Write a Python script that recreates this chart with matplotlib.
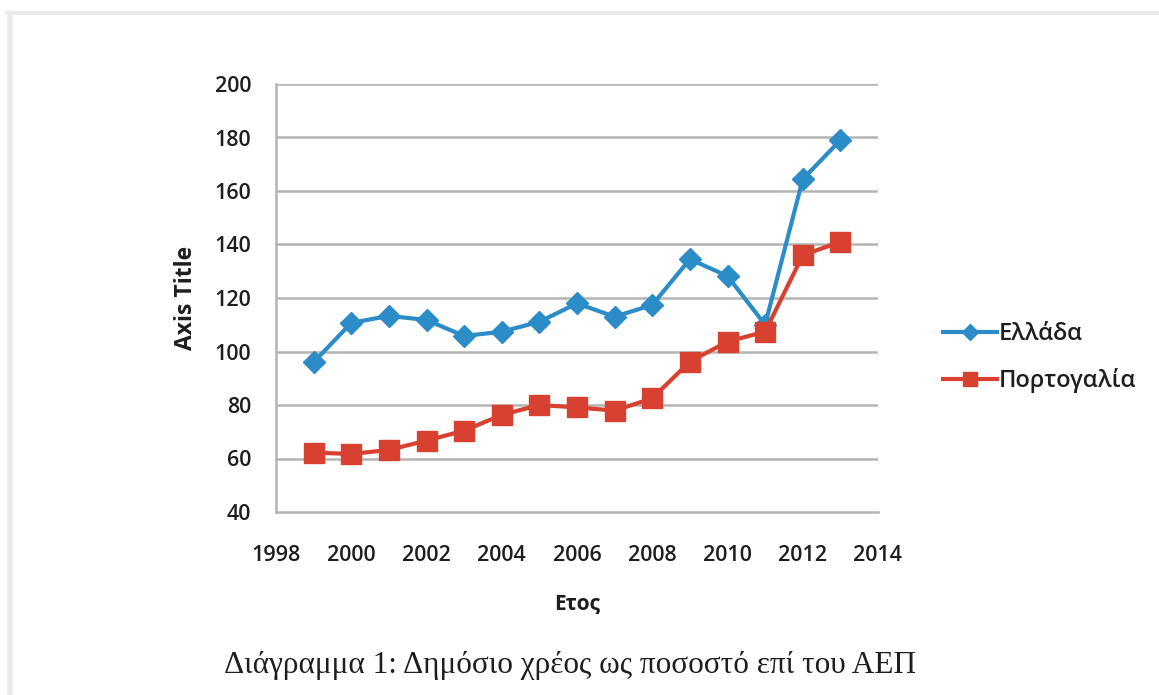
import matplotlib.pyplot as plt
from matplotlib.lines import Line2D

years = list(range(1999, 2014))
greece = [96, 110.7, 113.3, 111.8, 105.8, 107.4, 111.1, 118, 113, 117.4,
          134.5, 128.2, 110, 164.4, 179]
portugal = [62.2, 61.7, 63.2, 66.7, 70.4, 76.3, 80, 79.1, 77.9, 82.5,
            96.2, 103.7, 107.4, 136, 141]
series_names = ["Ελλάδα", "Πορτογαλία"]
y_ticks = [40, 60, 80, 100, 120, 140, 160, 180, 200]
x_ticks = [1998, 2000, 2002, 2004, 2006, 2008, 2010, 2012, 2014]

blue = "#2b8cc8"
red = "#d8402f"
grid_col = "#b4b4b4"
text_col = "#1e1e1e"

plt.rcParams['font.family'] = ['Open Sans', 'DejaVu Sans']

fig = plt.figure(figsize=(11.59, 6.95), dpi=100, facecolor='white')
ax = fig.add_axes([276 / 1159, 1 - 512 / 695, 602 / 1159, 428 / 695])

ax.plot(years, greece, color=blue, linewidth=3, marker='D', markersize=11,
        label=series_names[0], zorder=3)
ax.plot(years, portugal, color=red, linewidth=3, marker='s', markersize=14,
        label=series_names[1], zorder=4)

ax.set_xlim(1998, 2014)
ax.set_ylim(40, 200)
ax.set_xticks(x_ticks)
ax.set_yticks(y_ticks)
ax.tick_params(axis='both', length=0, labelsize=15.5, colors=text_col)
ax.tick_params(axis='x', pad=24)
ax.tick_params(axis='y', pad=18)
for lbl in ax.get_xticklabels() + ax.get_yticklabels():
    lbl.set_fontweight('semibold')

for y in y_ticks[1:]:
    ax.axhline(y, color=grid_col, linewidth=1.8, zorder=1)

for side in ['top', 'right']:
    ax.spines[side].set_visible(False)
ax.spines['left'].set_color(grid_col)
ax.spines['bottom'].set_color(grid_col)
ax.spines['left'].set_linewidth(1.8)
ax.spines['bottom'].set_linewidth(1.8)

ax.set_ylabel("Axis Title", fontsize=16.5, fontweight='bold', labelpad=12,
              color=text_col)
ax.set_xlabel("Ετος", fontsize=15, fontweight='bold', labelpad=20,
              color=text_col)

leg = ax.legend(loc='center left', bbox_to_anchor=(1.108, 0.361), frameon=False,
                fontsize=17, handlelength=2.3, handletextpad=0.05,
                labelspacing=0.95, borderpad=0, borderaxespad=0,
                markerscale=0.75)
for t in leg.get_texts():
    t.set_color(text_col)
    t.set_fontweight('semibold')

fig.text(570 / 1159, 1 - 665 / 695,
         "Διάγραμμα 1: Δημόσιο χρέος ως ποσοστό επί του ΑΕΠ",
         fontsize=22.5, family=['Liberation Serif', 'DejaVu Serif'],
         ha='center', va='center', color=text_col)

# faint frame of the screenshot
fig.add_artist(Line2D([7 / 1159, 1], [1 - 13 / 695] * 2, color='#ebebeb',
                      linewidth=3, transform=fig.transFigure))
fig.add_artist(Line2D([10 / 1159] * 2, [0, 1 - 13 / 695], color='#ebebeb',
                      linewidth=4, transform=fig.transFigure))

fig.savefig("out.png", dpi=100)
